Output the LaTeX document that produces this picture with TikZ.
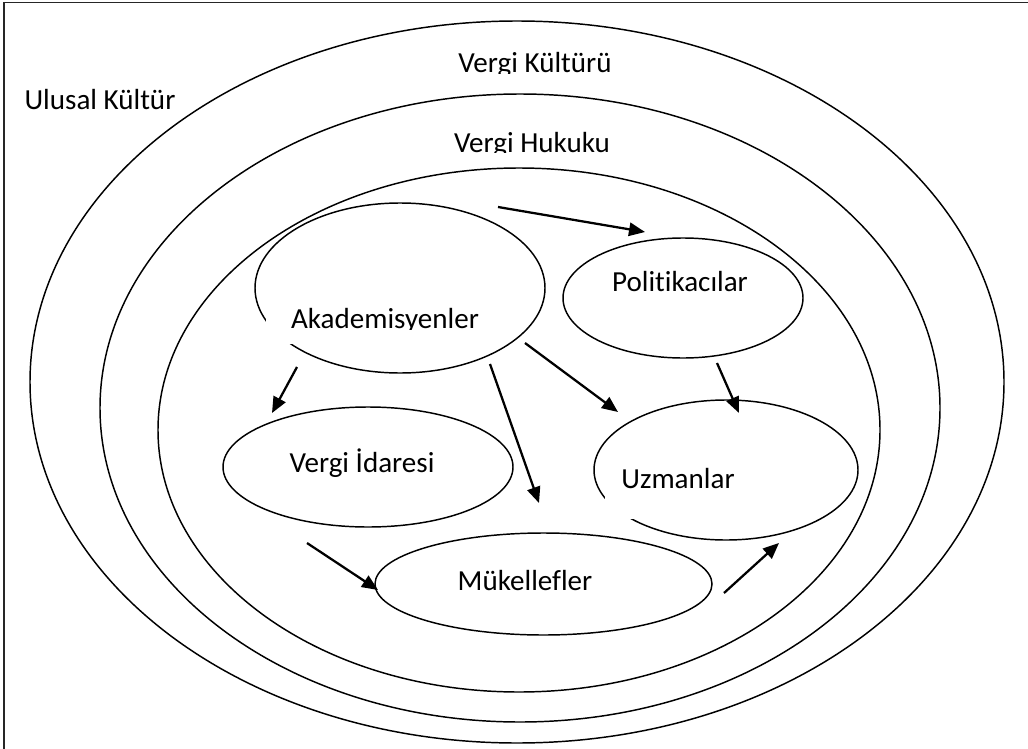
\documentclass[tikz,border=0pt]{standalone}
\usepackage{fontspec}
\setmainfont[Ligatures=NoCommon]{Carlito}
\usetikzlibrary{shapes.geometric,arrows.meta}
\begin{document}
\begin{tikzpicture}[x=0.75pt,y=-0.75pt,
  ring/.style={draw, ellipse, line width=1.1pt, inner sep=0pt},
  lbl/.style={font=\fontsize{21.8}{26}\selectfont, inner sep=0pt, anchor=base},
  mask/.style={fill=white, draw=none, inner sep=0pt},
  arr/.style={line width=1.7pt, -{Triangle[length=12pt,width=10pt]}}]
\useasboundingbox (0,0) rectangle (1028,749);

% frame
\draw[line width=1.4pt, black!85] (4,770) -- (4,2.5) -- (1045,2.5);

% nested cultural layers
\node[ring, minimum width=730.5pt, minimum height=541.5pt] (ulusal) at (517,382) {};
\node[ring, minimum width=630pt, minimum height=471pt] (kultur) at (520,408) {};
\node[ring, minimum width=541.5pt, minimum height=393pt] (hukuk) at (519,430) {};

% actors
\node[ring, minimum width=217.5pt, minimum height=127.5pt] (aka) at (400,288) {};
\node[ring, minimum width=180pt, minimum height=90pt] (pol) at (683,298) {};
\node[ring, minimum width=217.5pt, minimum height=90pt] (vid) at (368,467) {};
\node[ring, minimum width=252.75pt, minimum height=76.5pt] (muk) at (543.5,584) {};
\node[ring, minimum width=198pt, minimum height=105pt] (uzm) at (726,470) {};

% white text boxes
\node[mask, minimum width=179.25pt, minimum height=28.5pt] (aka-box) at (385.5,325) {};
\node[mask, minimum width=116pt, minimum height=42pt] (uzm-box) at (682,491) {};

% labels
\node[lbl] (t-ulusal) at (100,109) {Ulusal Kültür};
\node[lbl] (t-kultur) at (535,73) {Vergi Kültürü};
\node[lbl] (t-hukuk) at (532,152) {Vergi Hukuku};
\node[lbl] (t-aka) at (385,328) {Akademisyenler};
\node[lbl] (t-pol) at (680,291) {Politikacılar};
\node[lbl] (t-vid) at (362,472) {Vergi İdaresi};
\node[lbl] (t-muk) at (525,590) {Mükellefler};
\node[lbl] (t-uzm) at (678,488) {Uzmanlar};

% text areas cut the descenders
\fill[white] ([yshift=-0.8pt]t-kultur.base west) rectangle ([yshift=-7pt]t-kultur.base east);
\fill[white] ([yshift=-0.8pt]t-hukuk.base west) rectangle ([yshift=-7pt]t-hukuk.base east);
\fill[white] ([yshift=-1.5pt]t-aka.base west) rectangle ([yshift=-9pt]t-aka.base east);

% arrow ends
\coordinate (a1s) at (498,207); \coordinate (a1e) at (645,232);
\coordinate (a2s) at (297,367); \coordinate (a2e) at (272,413);
\coordinate (a3s) at (490,364); \coordinate (a3e) at (539,503);
\coordinate (a4s) at (525,343); \coordinate (a4e) at (618,412);
\coordinate (a5s) at (717,363); \coordinate (a5e) at (739,413);
\coordinate (a6s) at (307,543); \coordinate (a6e) at (378,590);
\coordinate (a7s) at (724,593); \coordinate (a7e) at (779,543);

\draw[arr] (a1s) -- (a1e);
\draw[arr] (a2s) -- (a2e);
\draw[arr] (a3s) -- (a3e);
\draw[arr] (a4s) -- (a4e);
\draw[arr] (a5s) -- (a5e);
\draw[arr] (a6s) -- (a6e);
\draw[arr] (a7s) -- (a7e);
\end{tikzpicture}
\end{document}
